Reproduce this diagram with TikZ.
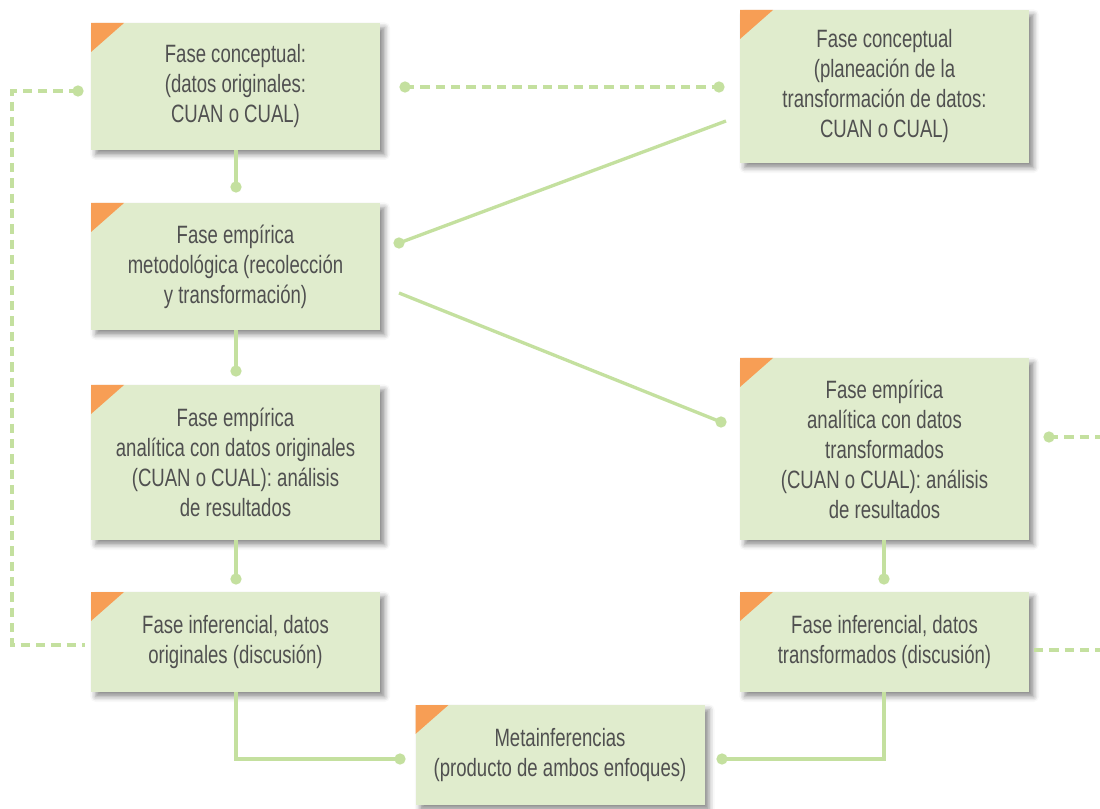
\documentclass[tikz,border=0pt]{standalone}
\usepackage{fontspec}
\setmainfont{Liberation Sans}[FakeStretch=0.74]
\usetikzlibrary{shadows.blur}
\definecolor{boxfill}{HTML}{E0ECCD}
\definecolor{corner}{HTML}{F79E55}
\definecolor{linec}{HTML}{C4E09F}
\definecolor{txt}{HTML}{505050}
\begin{document}
\begin{tikzpicture}[x=0.75pt,y=-0.75pt,
  phase/.style={fill=boxfill, draw=none, minimum width=289*0.75pt, inner sep=0pt,
    align=center, text=txt, font=\fontsize{18.8}{22.5}\selectfont,
    blur shadow={shadow xshift=3.5pt, shadow yshift=-3.5pt, shadow blur radius=4pt, shadow opacity=45},
    path picture={\fill[corner] (path picture bounding box.north west) -- ++(33,0) -- ++(-33,29) -- cycle;}},
  conn/.style={draw=linec, line width=2.5pt},
  dconn/.style={draw=linec, line width=2.5pt, dash pattern=on 7pt off 4.5pt},
  dot/.style={circle, fill=linec, inner sep=0pt, minimum size=8.5pt}]
\useasboundingbox (0,0) rectangle (1100,809);

\node[phase, minimum height=127*0.75pt] (b1) at (235.5,86.5) {Fase conceptual:\\(datos originales:\\CUAN o CUAL)};
\node[phase, minimum height=153*0.75pt] (b2) at (884.5,86.5) {Fase conceptual\\(planeación de la\\transformación de datos:\\CUAN o CUAL)};
\node[phase, minimum height=127*0.75pt] (b3) at (235.5,266.5) {Fase empírica\\metodológica (recolección\\y transformación)};
\node[phase, minimum height=155*0.75pt] (b4) at (235.5,462.5) {Fase empírica\\analítica con datos originales\\(CUAN o CUAL): análisis\\de resultados};
\node[phase, minimum height=182*0.75pt] (b5) at (884.5,449) {Fase empírica\\analítica con datos\\transformados\\(CUAN o CUAL): análisis\\de resultados};
\node[phase, minimum height=100*0.75pt] (b6) at (235.5,642) {Fase inferencial, datos\\originales (discusión)};
\node[phase, minimum height=100*0.75pt] (b7) at (884.5,642) {Fase inferencial, datos\\transformados (discusión)};
\node[phase, minimum height=100*0.75pt] (b8) at (560,755) {Metainferencias\\(producto de ambos enfoques)};

% dots
\node[dot] (d13) at (236,187) {};
\node[dot] (d34) at (236,371) {};
\node[dot] (d46) at (236,579) {};
\node[dot] (d57) at (884,579) {};
\node[dot] (dL) at (78,91) {};
\node[dot] (dT1) at (405,87) {};
\node[dot] (dT2) at (719,87) {};
\node[dot] (dA) at (399,243) {};
\node[dot] (dB) at (721,422) {};
\node[dot] (dR) at (1049,437) {};
\node[dot] (dM1) at (400,759) {};
\node[dot] (dM2) at (722,759) {};
\coordinate (cA) at (726,121);
\coordinate (cB) at (399,293);
\coordinate (cL) at (85,645);
\coordinate (cR1) at (1100,437);
\coordinate (cR2) at (1034,650);
\coordinate (cR3) at (1100,650);

\draw[conn] (b1.south -| d13) -- (d13.center);
\draw[conn] (b3.south -| d34) -- (d34.center);
\draw[conn] (b4.south -| d46) -- (d46.center);
\draw[conn] (b5.south -| d57) -- (d57.center);
\draw[conn] (dA.center) -- (cA);
\draw[conn] (cB) -- (dB.center);
\draw[conn] (b6.south -| 236,0) |- (dM1.center);
\draw[conn] (b7.south -| 884,0) |- (dM2.center);
\draw[dconn] (dL.center) -- (12,91) -- (12,645) -- (cL);
\draw[dconn] (dT1.center) -- (dT2.center);
\draw[dconn] (dR.center) -- (cR1);
\draw[dconn] (cR2) -- (cR3);
\end{tikzpicture}
\end{document}
